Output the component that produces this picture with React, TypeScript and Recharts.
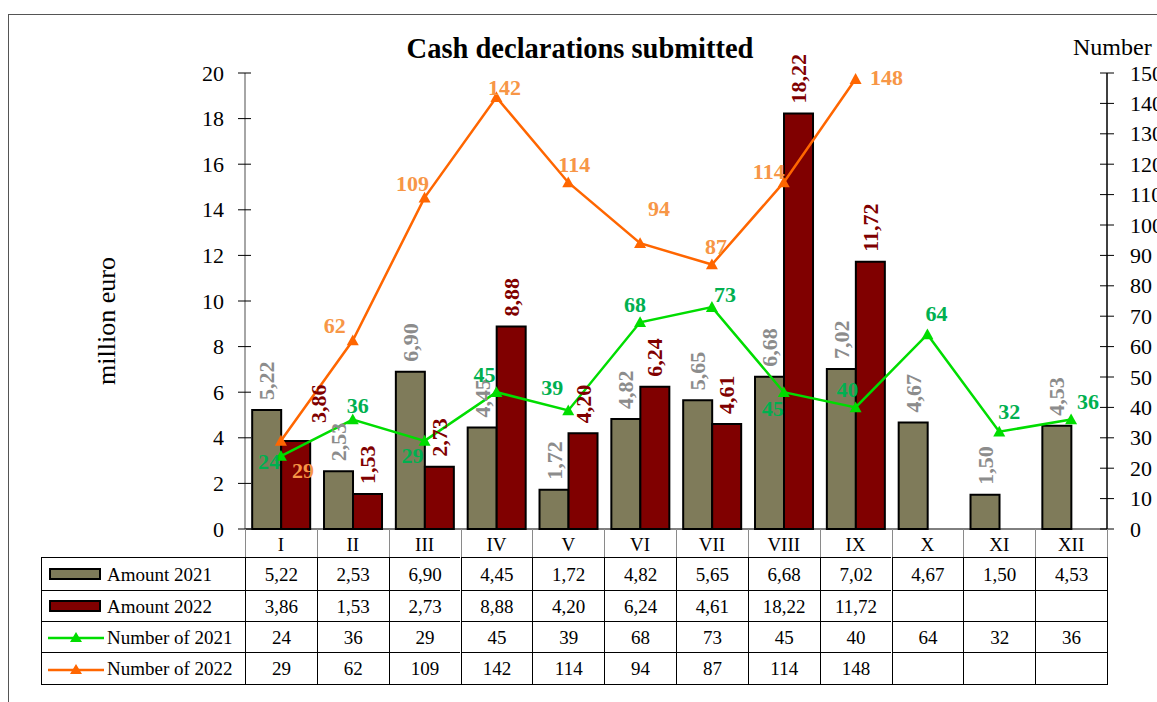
import React from "react";
import {
  Bar,
  ComposedChart,
  LabelList,
  Line,
  XAxis,
  YAxis,
} from "recharts";

const MONTHS = ["I", "II", "III", "IV", "V", "VI", "VII", "VIII", "IX", "X", "XI", "XII"];
const AMOUNT_2021 = [5.22, 2.53, 6.9, 4.45, 1.72, 4.82, 5.65, 6.68, 7.02, 4.67, 1.5, 4.53];
const AMOUNT_2022 = [3.86, 1.53, 2.73, 8.88, 4.2, 6.24, 4.61, 18.22, 11.72, null, null, null];
const NUMBER_2021 = [24, 36, 29, 45, 39, 68, 73, 45, 40, 64, 32, 36];
const NUMBER_2022 = [29, 62, 109, 142, 114, 94, 87, 114, 148, null, null, null];
const LEFT_TICKS = [0, 2, 4, 6, 8, 10, 12, 14, 16, 18, 20];
const RIGHT_TICKS = [0, 10, 20, 30, 40, 50, 60, 70, 80, 90, 100, 110, 120, 130, 140, 150];

// label nudges (dx, dy from the marker), like the hand-placed ones in the original
const N21_LABEL_NUDGE = [
  [-12, 5], [5, -14], [-12, 15], [-12, -18], [-16, -23], [-5, -18],
  [13, -13], [-11, 16], [-8, -18], [9, -21], [10, -20], [17, -18],
];
const N22_LABEL_NUDGE = [
  [22, 30], [-18, -15], [-12, -14], [8, -10], [6, -18], [19, -35],
  [4, -18], [-15, -11], [31, -2],
];
const A22_LABEL_NUDGE: Record<number, [number, number]> = { 0: [23, -8] };

const FONT = "'Liberation Serif', 'Times New Roman', serif";
const COLORS = {
  a2021: "#7f7b5a",
  a2022: "#800000",
  n2021: "#00dd00",
  n2022: "#ff6600",
  a2021Label: "#8c8c8c",
  n2021Label: "#00b050",
  n2022Label: "#f79646",
};

const W = 1157;
const H = 702;
const PLOT_LEFT = 245;
const PLOT_RIGHT = 1107;
const PLOT_TOP = 73;
const PLOT_BOTTOM = 529;
const BAND = (PLOT_RIGHT - PLOT_LEFT) / MONTHS.length;
const TABLE_LEFT = 41;
const ROW_HEIGHTS = [33, 31, 31, 32];

const data = MONTHS.map((month, i) => ({
  month,
  a2021: AMOUNT_2021[i],
  a2022: AMOUNT_2022[i],
  n2021: NUMBER_2021[i],
  n2022: NUMBER_2022[i],
}));

const fmt = (v: number) => v.toFixed(2).replace(".", ",");

function LeftTick({ x, y, payload }: any) {
  return (
    <g>
      <line x1={x - 7} x2={x + 6} y1={y} y2={y} stroke="#000" strokeWidth={1} />
      <text x={x - 21} y={y} textAnchor="end" dominantBaseline="central" fontSize={22} fontFamily={FONT} fill="#000">
        {payload.value}
      </text>
    </g>
  );
}

function RightTick({ x, y, payload }: any) {
  return (
    <g>
      <line x1={x - 7} x2={x + 7} y1={y} y2={y} stroke="#000" strokeWidth={1} />
      <text x={x + 23} y={y} textAnchor="start" dominantBaseline="central" fontSize={22} fontFamily={FONT} fill="#000">
        {payload.value}
      </text>
    </g>
  );
}

function MonthTick({ x, y, payload }: any) {
  return (
    <text x={x} y={y + 15} textAnchor="middle" dominantBaseline="central" fontSize={19} fontFamily={FONT} fill="#000">
      {payload.value}
    </text>
  );
}

function triangleDot(color: string) {
  return (p: any) => {
    const { cx, cy, index } = p;
    if (cx == null || cy == null || p.value == null) return <g key={`t-${index}`} />;
    const s = 6;
    return (
      <path
        key={`t-${index}`}
        d={`M${cx},${cy - s} L${cx + s},${cy + s * 0.8} L${cx - s},${cy + s * 0.8} Z`}
        fill={color}
      />
    );
  };
}

function barLabel(color: string, nudge: Record<number, [number, number]> = {}) {
  return (p: any) => {
    const { x, y, width, value, index } = p;
    if (value == null) return null;
    const [dx, dy] = nudge[index] ?? [0, 0];
    const cx = Number(x) + Number(width) / 2 + dx;
    const ty = Number(y) - 10 + dy;
    return (
      <text
        key={`bl-${index}`}
        x={cx}
        y={ty}
        transform={`rotate(-90, ${cx}, ${ty})`}
        textAnchor="start"
        dominantBaseline="central"
        fontSize={22}
        fontWeight="bold"
        fontFamily={FONT}
        fill={color}
      >
        {fmt(Number(value))}
      </text>
    );
  };
}

function lineLabel(color: string, nudge: number[][]) {
  return (p: any) => {
    const { x, y, value, index } = p;
    if (value == null) return null;
    const [dx, dy] = nudge[index] ?? [0, -16];
    return (
      <text
        key={`ll-${index}`}
        x={Number(x) + dx}
        y={Number(y) + dy}
        textAnchor="middle"
        dominantBaseline="central"
        fontSize={22}
        fontWeight="bold"
        fontFamily={FONT}
        fill={color}
      >
        {value}
      </text>
    );
  };
}

function BarSwatch({ color }: { color: string }) {
  return (
    <span
      style={{
        position: "absolute",
        left: 7,
        top: "50%",
        marginTop: -6,
        width: 48,
        height: 8,
        background: color,
        border: "2px solid #000",
      }}
    />
  );
}

function LineSwatch({ color }: { color: string }) {
  return (
    <svg width={56} height={14} style={{ position: "absolute", left: 6, top: "50%", marginTop: -7 }}>
      <line x1={0} x2={56} y1={8} y2={8} stroke={color} strokeWidth={2.5} />
      <path d="M28,2 L34,12 L22,12 Z" fill={color} />
    </svg>
  );
}

const TABLE_ROWS = [
  { name: "Amount 2021", values: AMOUNT_2021.map((v) => fmt(v)), swatch: <BarSwatch color={COLORS.a2021} /> },
  { name: "Amount 2022", values: AMOUNT_2022.map((v) => (v == null ? "" : fmt(v))), swatch: <BarSwatch color={COLORS.a2022} /> },
  { name: "Number of 2021", values: NUMBER_2021.map((v) => String(v)), swatch: <LineSwatch color={COLORS.n2021} /> },
  { name: "Number of 2022", values: NUMBER_2022.map((v) => (v == null ? "" : String(v))), swatch: <LineSwatch color={COLORS.n2022} /> },
];

function DataTable() {
  const cells: React.ReactNode[] = [];
  let top = PLOT_BOTTOM + 28;
  TABLE_ROWS.forEach((row, r) => {
    const h = ROW_HEIGHTS[r];
    cells.push(
      <div
        key={`h-${r}`}
        style={{
          position: "absolute",
          left: TABLE_LEFT,
          top,
          width: PLOT_LEFT - TABLE_LEFT,
          height: h,
          borderLeft: "1px solid #000",
          borderTop: "1px solid #000",
          boxSizing: "border-box",
          lineHeight: `${h}px`,
          paddingLeft: 65,
          fontSize: 19,
          whiteSpace: "nowrap",
        }}
      >
        {row.swatch}
        {row.name}
      </div>
    );
    row.values.forEach((v, c) => {
      cells.push(
        <div
          key={`c-${r}-${c}`}
          style={{
            position: "absolute",
            left: PLOT_LEFT + c * BAND,
            top,
            width: BAND,
            height: h,
            borderLeft: "1px solid #000",
            borderTop: "1px solid #000",
            boxSizing: "border-box",
            lineHeight: `${h}px`,
            textAlign: "center",
            fontSize: 19,
          }}
        >
          {v}
        </div>
      );
    });
    top += h;
  });
  const tableTop = PLOT_BOTTOM + 28;
  return (
    <>
      {MONTHS.map((m, i) => (
        <div
          key={`g-${m}`}
          style={{ position: "absolute", left: PLOT_LEFT + i * BAND, top: PLOT_BOTTOM, width: 1, height: 28, background: "#8a8a8a" }}
        />
      ))}
      <div style={{ position: "absolute", left: PLOT_RIGHT, top: PLOT_BOTTOM, width: 1, height: 28, background: "#8a8a8a" }} />
      {cells}
      <div style={{ position: "absolute", left: PLOT_RIGHT, top: tableTop, width: 1, height: top - tableTop, background: "#000" }} />
      <div style={{ position: "absolute", left: TABLE_LEFT, top, width: PLOT_RIGHT - TABLE_LEFT + 1, height: 1, background: "#000" }} />
    </>
  );
}

export default function App() {
  return (
    <div
      style={{
        position: "absolute",
        left: 0,
        top: 0,
        width: W,
        height: H,
        overflow: "hidden",
        background: "#fff",
        fontFamily: FONT,
        color: "#000",
      }}
    >
      <div
        style={{
          position: "absolute",
          left: 8,
          top: 14,
          width: 1300,
          height: 800,
          border: "1px solid #555",
        }}
      />
      <div
        style={{
          position: "absolute",
          left: 330,
          width: 500,
          top: 33,
          textAlign: "center",
          fontSize: 28.5,
          fontWeight: "bold",
          lineHeight: "32px",
        }}
      >
        Cash declarations submitted
      </div>
      <div style={{ position: "absolute", left: 1073, top: 33, fontSize: 24, lineHeight: "28px", whiteSpace: "nowrap" }}>
        Number
      </div>
      <div
        style={{
          position: "absolute",
          left: 107 - 100,
          top: 321 - 15,
          width: 200,
          textAlign: "center",
          fontSize: 26,
          lineHeight: "30px",
          transform: "rotate(-90deg)",
          whiteSpace: "nowrap",
        }}
      >
        million euro
      </div>

      <div style={{ position: "absolute", left: 0, top: 0 }}>
        <ComposedChart
          width={W}
          height={H}
          data={data}
          margin={{ top: PLOT_TOP, left: PLOT_LEFT - 60, right: W - PLOT_RIGHT - 50, bottom: H - PLOT_BOTTOM - 28 }}
          barCategoryGap="10%"
          barGap={0}
        >
          <XAxis
            dataKey="month"
            height={28}
            axisLine={{ stroke: "#000", strokeWidth: 1 }}
            tickLine={false}
            tickSize={0}
            tickMargin={0}
            tick={<MonthTick />}
            interval={0}
          />
          <YAxis
            yAxisId="left"
            width={60}
            domain={[0, 20]}
            ticks={LEFT_TICKS}
            interval={0}
            axisLine={{ stroke: "#888", strokeWidth: 1.5 }}
            tickLine={false}
            tickSize={0}
            tickMargin={0}
            tick={<LeftTick />}
          />
          <YAxis
            yAxisId="right"
            orientation="right"
            width={50}
            domain={[0, 150]}
            ticks={RIGHT_TICKS}
            interval={0}
            axisLine={{ stroke: "#000", strokeWidth: 1.5 }}
            tickLine={false}
            tickSize={0}
            tickMargin={0}
            tick={<RightTick />}
          />
          <Bar yAxisId="left" dataKey="a2021" fill={COLORS.a2021} stroke="#000" strokeWidth={2} isAnimationActive={false}>
            <LabelList dataKey="a2021" content={barLabel(COLORS.a2021Label)} />
          </Bar>
          <Bar yAxisId="left" dataKey="a2022" fill={COLORS.a2022} stroke="#000" strokeWidth={2} isAnimationActive={false}>
            <LabelList dataKey="a2022" content={barLabel(COLORS.a2022, A22_LABEL_NUDGE)} />
          </Bar>
          <Line
            yAxisId="right"
            dataKey="n2022"
            stroke={COLORS.n2022}
            strokeWidth={2.5}
            dot={triangleDot(COLORS.n2022)}
            activeDot={false}
            isAnimationActive={false}
          >
            <LabelList dataKey="n2022" content={lineLabel(COLORS.n2022Label, N22_LABEL_NUDGE)} />
          </Line>
          <Line
            yAxisId="right"
            dataKey="n2021"
            stroke={COLORS.n2021}
            strokeWidth={2.5}
            dot={triangleDot(COLORS.n2021)}
            activeDot={false}
            isAnimationActive={false}
          >
            <LabelList dataKey="n2021" content={lineLabel(COLORS.n2021Label, N21_LABEL_NUDGE)} />
          </Line>
        </ComposedChart>
      </div>
      <DataTable />
    </div>
  );
}
